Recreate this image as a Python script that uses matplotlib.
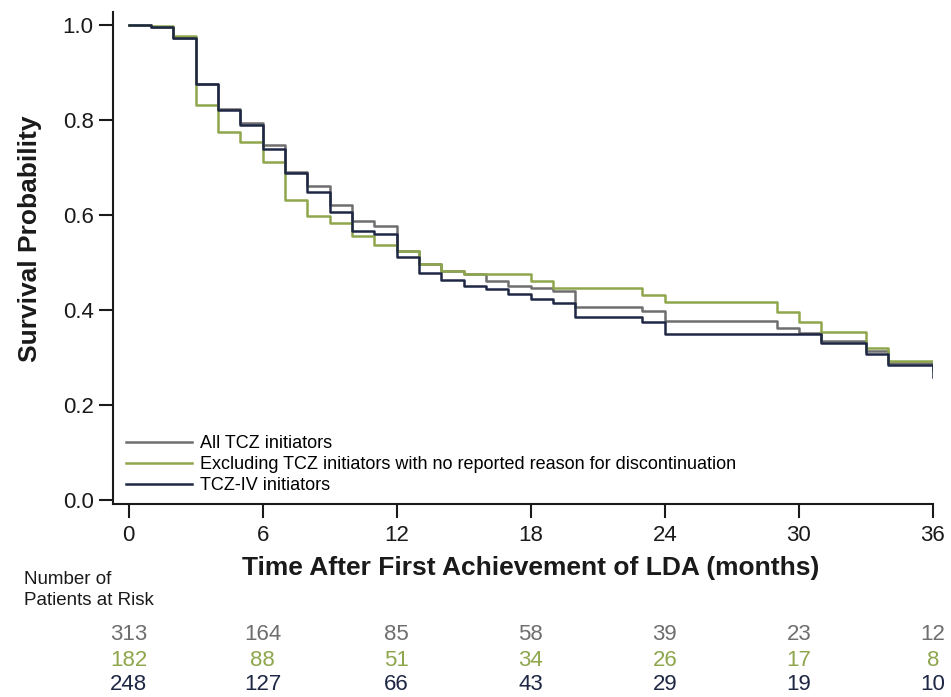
import numpy as np
import matplotlib
matplotlib.use('Agg')
import matplotlib.pyplot as plt
import matplotlib.transforms as mtransforms

plt.rcParams['font.family'] = ['Liberation Sans', 'DejaVu Sans']

# step times (months), survival value holds from each time to the next
months = list(range(0, 37))

surv_all = [1.000, 0.996, 0.972, 0.876, 0.822, 0.794, 0.747, 0.690, 0.661, 0.621,
            0.588, 0.576, 0.525, 0.497, 0.483, 0.476, 0.462, 0.451, 0.446, 0.440,
            0.406, 0.406, 0.406, 0.398, 0.377, 0.377, 0.377, 0.377, 0.377, 0.363,
            0.352, 0.335, 0.335, 0.313, 0.289, 0.289, 0.273]

surv_excl = [1.000, 0.997, 0.976, 0.832, 0.774, 0.753, 0.711, 0.632, 0.598, 0.583,
             0.556, 0.537, 0.525, 0.497, 0.483, 0.476, 0.476, 0.476, 0.462, 0.446,
             0.446, 0.446, 0.446, 0.432, 0.416, 0.416, 0.416, 0.416, 0.416, 0.396,
             0.375, 0.354, 0.354, 0.320, 0.293, 0.293, 0.293]

surv_iv = [1.000, 0.996, 0.972, 0.876, 0.820, 0.790, 0.738, 0.688, 0.649, 0.607,
           0.567, 0.560, 0.511, 0.478, 0.463, 0.451, 0.444, 0.434, 0.423, 0.415,
           0.386, 0.386, 0.386, 0.375, 0.350, 0.350, 0.350, 0.350, 0.350, 0.350,
           0.350, 0.331, 0.331, 0.308, 0.284, 0.284, 0.260]

labels = ['All TCZ initiators',
          'Excluding TCZ initiators with no reported reason for discontinuation',
          'TCZ-IV initiators']
colors = ['#6e6e6e', '#8ea64c', '#1e2744']

risk_months = [0, 6, 12, 18, 24, 30, 36]
risk_all = [313, 164, 85, 58, 39, 23, 12]
risk_excl = [182, 88, 51, 34, 26, 17, 8]
risk_iv = [248, 127, 66, 43, 29, 19, 10]

fig = plt.figure(figsize=(9.51, 6.97), dpi=100)
ax = fig.add_axes([0.1188, 0.2769, 0.8622, 0.7059])

for s, lab, c in zip([surv_all, surv_excl, surv_iv], labels, colors):
    ax.step(months, s, where='post', color=c, lw=1.8, label=lab)

ax.set_xlim(-0.7, 36)
ax.set_ylim(-0.008, 1.027)
ax.set_xticks(risk_months)
ax.set_yticks([0.0, 0.2, 0.4, 0.6, 0.8, 1.0])
ax.set_yticklabels(['0.0', '0.2', '0.4', '0.6', '0.8', '1.0'])

ax.spines['top'].set_visible(False)
ax.spines['right'].set_visible(False)
for sp in ['left', 'bottom']:
    ax.spines[sp].set_linewidth(1.5)
    ax.spines[sp].set_color('#1a1a1a')
ax.tick_params(axis='both', length=10, width=1.5, labelsize=16,
               colors='#1a1a1a', pad=4)
ax.tick_params(axis='x', pad=5)

ax.set_ylabel('Survival Probability', fontsize=19, fontweight='bold',
              color='#1a1a1a')
ax.yaxis.set_label_coords(-0.087, 0.54)
ax.set_xlabel('Time After First Achievement of LDA (months)', fontsize=19,
              fontweight='bold', color='#1a1a1a')
ax.xaxis.set_label_coords(0.51, -0.106)

ax.legend(loc='lower left', bbox_to_anchor=(0.0, -0.006), frameon=False,
          fontsize=13, handlelength=3.7, handletextpad=0.4,
          labelspacing=0.22, borderaxespad=0.3)

# numbers at risk
fig.text(24 / 951, 1 - 590 / 697, 'Number of\nPatients at Risk', fontsize=13.5,
         color='#1a1a1a', va='center', ha='left', linespacing=1.3)
trans = mtransforms.blended_transform_factory(ax.transData, fig.transFigure)
for vals, c, ypx in zip([risk_all, risk_excl, risk_iv], colors, [635, 660, 685]):
    for m, v in zip(risk_months, vals):
        ax.text(m, 1 - ypx / 697, str(v), transform=trans, ha='center',
                va='center', fontsize=16, color=c, clip_on=False)

fig.savefig('out.png', dpi=100)
